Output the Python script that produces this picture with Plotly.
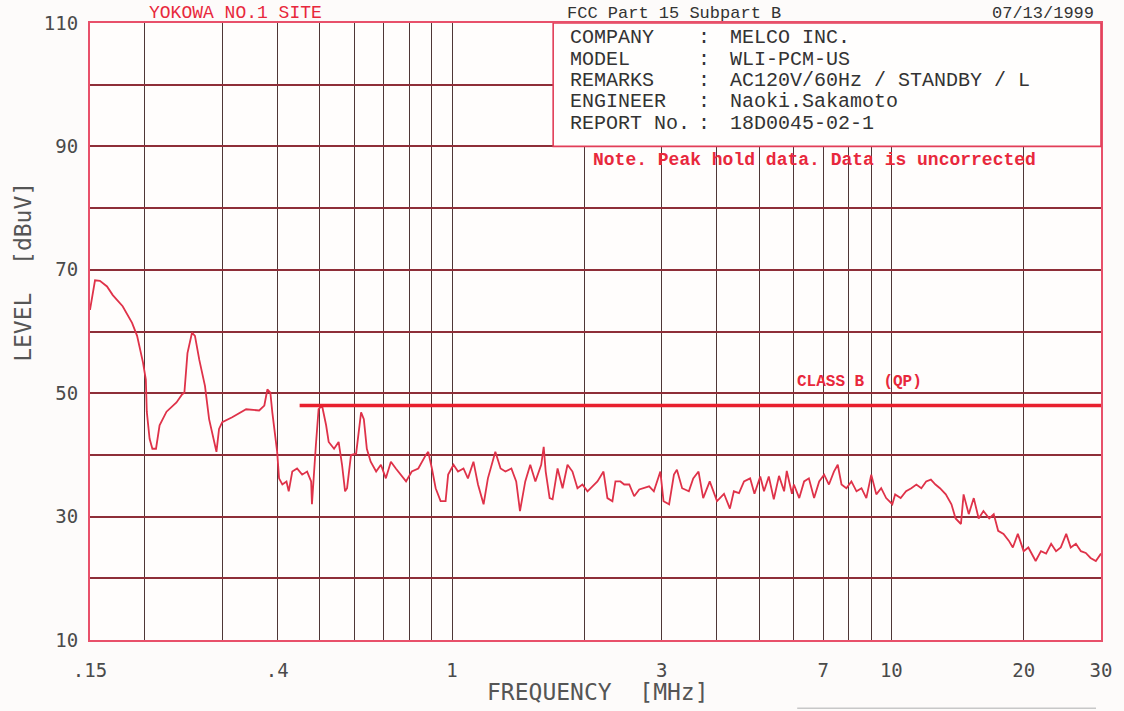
import plotly.graph_objects as go

# ---------------- data ----------------
freq_mhz = [0.150, 0.154, 0.158, 0.164, 0.169, 0.178, 0.187, 0.192, 0.198, 0.201,
            0.202, 0.205, 0.208, 0.212, 0.216, 0.220, 0.224, 0.236, 0.243, 0.246,
            0.250, 0.256, 0.260, 0.266, 0.274, 0.280, 0.288, 0.291, 0.295, 0.300,
            0.316, 0.340, 0.364, 0.374, 0.380, 0.386, 0.390, 0.396, 0.400, 0.404,
            0.411, 0.420, 0.425, 0.433, 0.444, 0.456, 0.468, 0.478, 0.480, 0.490,
            0.497, 0.506, 0.517, 0.524, 0.539, 0.552, 0.562, 0.571, 0.577, 0.589,
            0.605, 0.621, 0.630, 0.640, 0.653, 0.672, 0.689, 0.707, 0.726, 0.745,
            0.765, 0.786, 0.810, 0.838, 0.872, 0.883, 0.900, 0.918, 0.942, 0.967,
            0.980, 1.008, 1.032, 1.062, 1.087, 1.119, 1.146, 1.180, 1.207, 1.255,
            1.290, 1.323, 1.365, 1.400, 1.428, 1.468, 1.507, 1.548, 1.596, 1.617,
            1.634, 1.668, 1.694, 1.739, 1.785, 1.832, 1.880, 1.930, 1.981, 2.034,
            2.088, 2.143, 2.212, 2.258, 2.318, 2.355, 2.417, 2.466, 2.532, 2.598,
            2.668, 2.738, 2.810, 2.880, 2.930, 2.980, 3.030, 3.120, 3.200, 3.250,
            3.340, 3.460, 3.540, 3.640, 3.730, 3.860, 4.010, 4.160, 4.290, 4.380,
            4.500, 4.620, 4.770, 4.880, 5.030, 5.130, 5.260, 5.400, 5.550, 5.700,
            5.780, 5.940, 6.000, 6.170, 6.330, 6.490, 6.670, 6.850, 7.030, 7.210,
            7.400, 7.550, 7.700, 7.900, 8.110, 8.330, 8.550, 8.770, 9.000, 9.240,
            9.480, 9.730, 10.05, 10.20, 10.50, 10.80, 11.10, 11.40, 11.70, 12.00,
            12.30, 12.60, 12.90, 13.30, 13.70, 14.00, 14.40, 14.60, 15.00, 15.40,
            15.80, 16.20, 16.70, 17.10, 17.50, 18.00, 18.50, 18.90, 19.40, 20.00,
            20.50, 21.30, 21.90, 22.50, 23.10, 23.70, 24.30, 25.00, 25.60, 26.30,
            27.00, 27.70, 28.40, 29.20, 30.00]

level_dbuv = [63.5, 68.3, 68.2, 67.3, 65.9, 64.1, 61.4, 59.3, 55.0, 52.2,
              47.0, 42.6, 41.0, 41.0, 44.8, 45.8, 47.0, 48.5, 49.8, 50.1,
              56.5, 59.8, 59.3, 55.4, 51.2, 45.8, 41.6, 40.5, 44.2, 45.3,
              46.1, 47.4, 47.2, 48.0, 50.6, 50.1, 46.9, 42.6, 40.5, 36.2,
              35.2, 35.7, 34.1, 37.3, 37.8, 36.8, 37.3, 35.7, 32.0, 41.6,
              47.4, 48.0, 44.8, 42.1, 41.0, 42.1, 38.4, 34.1, 34.6, 40.0,
              40.2, 46.9, 45.8, 41.0, 38.9, 37.3, 38.4, 36.2, 38.9, 37.8,
              36.8, 35.7, 37.3, 37.8, 40.0, 40.5, 37.8, 34.6, 32.5, 32.5,
              36.8, 38.4, 37.3, 37.8, 36.2, 38.9, 35.2, 32.0, 36.2, 40.5,
              37.8, 37.3, 37.8, 35.7, 30.9, 35.7, 38.4, 35.7, 38.4, 41.3,
              37.3, 33.0, 32.8, 37.8, 34.6, 38.4, 37.3, 34.6, 35.2, 34.1,
              34.9, 35.7, 37.3, 33.0, 32.5, 35.7, 35.7, 35.2, 35.2, 33.3,
              34.4, 34.6, 34.9, 34.1, 35.7, 37.3, 32.5, 32.0, 36.8, 37.6,
              34.6, 34.1, 36.2, 37.3, 33.0, 35.7, 32.5, 33.7, 31.3, 34.1,
              33.8, 35.7, 36.2, 33.7, 36.5, 34.1, 36.5, 32.8, 36.6, 34.1,
              37.4, 33.7, 35.2, 33.0, 35.7, 36.2, 33.0, 35.7, 36.8, 35.2,
              37.3, 38.4, 35.2, 34.6, 35.7, 34.1, 34.6, 33.0, 36.8, 33.6,
              34.6, 33.0, 32.0, 33.6, 33.0, 34.1, 34.6, 35.2, 34.6, 35.7,
              36.0, 35.2, 34.6, 33.6, 32.0, 29.7, 28.8, 33.6, 30.4, 33.0,
              29.7, 30.9, 29.7, 30.4, 27.7, 27.2, 26.1, 25.0, 27.2, 24.4,
              25.0, 22.8, 24.4, 24.0, 25.6, 24.4, 25.0, 27.2, 25.0, 25.6,
              24.4, 24.1, 23.3, 22.8, 24.0]

limit_freq = [0.45, 30.0]
limit_level = [48.0, 48.0]
limit_label = "CLASS B  (QP)"

x_grid_vals = [0.15, 0.2, 0.3, 0.4, 0.5, 0.6, 0.7, 0.8, 0.9, 1, 2, 3, 4, 5, 6, 7,
               8, 9, 10, 20, 30]
x_grid_text = [".15", "", "", ".4", "", "", "", "", "", "1", "", "3", "", "", "",
               "7", "", "", "10", "20", "30"]
y_tick_vals = [10, 20, 30, 40, 50, 60, 70, 80, 90, 100, 110]
y_tick_text = ["10", "", "30", "", "50", "", "70", "", "90", "", "110"]

info_labels = ["COMPANY", "MODEL", "REMARKS", "ENGINEER", "REPORT No."]
info_values = ["MELCO INC.", "WLI-PCM-US", "AC120V/60Hz / STANDBY / L",
               "Naoki.Sakamoto", "18D0045-02-1"]
note_text = "Note. Peak hold data. Data is uncorrected"
header_left = "YOKOWA NO.1 SITE"
header_mid = "FCC Part 15 Subpart B"
header_right = "07/13/1999"
x_title = "FREQUENCY  [MHz]"
y_title = "LEVEL  [dBuV]"

# ---------------- layout helpers (pixel -> paper) ----------------
W, H = 1124, 711
L, R, T, B = 90, 1105, 17, 640


def px(xp):
    return (xp - L) / (R - L)


def py(yp):
    return (B - yp) / (B - T)


RED_TRACE = "#DF3249"
RED_LIMIT = "#E8202E"
RED_BORDER = "#E8506A"
GRID_H = "#8E2E38"
GRID_V = "#4E3636"
GRAY = "#4A4A4A"
MONO = "Liberation Mono, DejaVu Sans Mono, monospace"
SMONO = "DejaVu Sans Mono, Liberation Mono, monospace"

fig = go.Figure()

fig.add_trace(go.Scatter(x=freq_mhz, y=level_dbuv, mode="lines",
                         line=dict(color=RED_TRACE, width=1.8),
                         hoverinfo="skip", showlegend=False))
fig.add_trace(go.Scatter(x=limit_freq, y=limit_level, mode="lines",
                         line=dict(color=RED_LIMIT, width=3.5),
                         hoverinfo="skip", showlegend=False))

annotations = []
row_y = [32, 53.5, 75, 96.5, 118]
for lab, val, yy in zip(info_labels, info_values, row_y):
    for xx, txt, anc in ((570, lab, "left"), (706, ":", "center"), (731, val, "left")):
        annotations.append(dict(x=px(xx), y=py(yy), xref="paper", yref="paper",
                                text=txt, showarrow=False, xanchor=anc,
                                yanchor="middle",
                                font=dict(family=MONO, size=20, color="#333333")))

annotations.append(dict(x=px(593), y=py(155), xref="paper", yref="paper",
                        text="<b>" + note_text + "</b>", showarrow=False,
                        xanchor="left", yanchor="middle",
                        font=dict(family=MONO, size=18, color="#E8283C")))
annotations.append(dict(x=px(798), y=py(379), xref="paper", yref="paper",
                        text="<b>" + limit_label + "</b>", showarrow=False,
                        xanchor="left", yanchor="middle",
                        font=dict(family=MONO, size=16, color="#E8283C")))
annotations.append(dict(x=px(147), y=py(7), xref="paper", yref="paper",
                        text=header_left, showarrow=False, xanchor="left",
                        yanchor="middle",
                        font=dict(family=MONO, size=18, color="#E8283C")))
annotations.append(dict(x=px(676), y=py(7), xref="paper", yref="paper",
                        text=header_mid, showarrow=False, xanchor="center",
                        yanchor="middle",
                        font=dict(family=MONO, size=17, color="#333333")))
annotations.append(dict(x=px(1100), y=py(7), xref="paper", yref="paper",
                        text=header_right, showarrow=False, xanchor="right",
                        yanchor="middle",
                        font=dict(family=MONO, size=17, color="#333333")))
annotations.append(dict(x=px(600), y=py(693), xref="paper", yref="paper",
                        text=x_title, showarrow=False, xanchor="center",
                        yanchor="middle",
                        font=dict(family=SMONO, size=23, color="#555555")))
annotations.append(dict(x=px(22), y=py(268), xref="paper", yref="paper",
                        text=y_title, showarrow=False, xanchor="center",
                        yanchor="middle", textangle=-90,
                        font=dict(family=SMONO, size=23, color="#555555")))

shapes = [
    dict(type="rect", xref="paper", yref="y", x0=px(555), x1=1, y0=90, y1=110,
         fillcolor="#FFFEFD", line=dict(color="#E23E58", width=1.6),
         layer="above"),
    dict(type="line", xref="paper", yref="paper", x0=px(800), x1=px(1100),
         y0=py(709), y1=py(709), line=dict(color="#C8C8C8", width=1.5)),
]

fig.update_layout(
    width=W, height=H,
    margin=dict(l=L, r=W - R, t=T, b=H - B, pad=0),
    paper_bgcolor="#FDFBFA", plot_bgcolor="#FFFDFC",
    showlegend=False,
    annotations=annotations, shapes=shapes,
    xaxis=dict(type="log", range=[-0.8239, 1.4771], tickmode="array",
               tickvals=x_grid_vals, ticktext=x_grid_text,
               showgrid=True, gridcolor=GRID_V, gridwidth=1.3,
               showline=True, mirror=True, linecolor=RED_BORDER, linewidth=2,
               zeroline=False, ticks="", ticklabelstandoff=12,
               tickfont=dict(family=SMONO, size=19, color=GRAY)),
    yaxis=dict(range=[10, 110], tickmode="array", tickvals=y_tick_vals,
               ticktext=y_tick_text, showgrid=True, gridcolor=GRID_H,
               gridwidth=1.5, showline=True, mirror=True, linecolor=RED_BORDER,
               linewidth=2, zeroline=False, ticks="", ticklabelstandoff=6,
               tickfont=dict(family=SMONO, size=19, color=GRAY)),
)

fig.write_html("out.html", config={"displayModeBar": False},
               post_script="document.body.style.margin='0px';"
                           "document.body.style.overflow='hidden';")
